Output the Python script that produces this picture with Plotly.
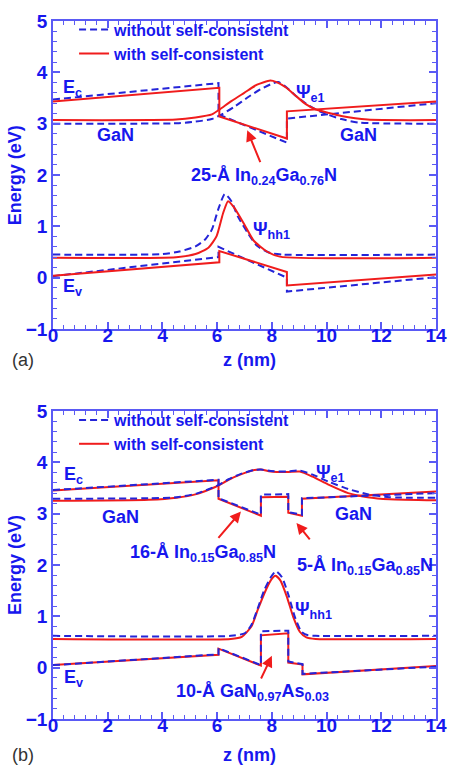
import plotly.graph_objects as go

# ---------------- data: panel (a) ----------------
a_ec_x_wo = [0, 6.05, 6.05, 8.55, 8.55, 14]
a_ec_y_wo = [3.47, 3.79, 3.18, 2.63, 3.10, 3.40]
a_ec_x_w = [0, 6.08, 6.08, 8.55, 8.55, 14]
a_ec_y_w = [3.43, 3.70, 3.14, 2.71, 3.24, 3.43]

a_ev_x_wo = [0, 6.05, 6.05, 8.55, 8.55, 14]
a_ev_y_wo = [0.03, 0.40, 0.60, 0.00, -0.27, 0.01]
a_ev_x_w = [0, 6.08, 6.08, 8.55, 8.55, 14]
a_ev_y_w = [0.04, 0.30, 0.52, 0.11, -0.15, 0.06]

a_pe_x_wo = [0, 4.6, 5.2, 5.8, 6.17, 6.63, 7.11, 7.58, 8.06, 8.23, 8.53, 8.88, 9.36, 9.83, 10.54, 11.2, 14]
a_pe_y_wo = [3.00, 3.01, 3.04, 3.09, 3.18, 3.33, 3.51, 3.67, 3.79, 3.81, 3.71, 3.54, 3.35, 3.22, 3.09, 3.02, 3.00]
a_pe_x_w = [0, 4.5, 5.21, 5.81, 6.10, 6.52, 6.99, 7.46, 7.94, 8.17, 8.53, 8.88, 9.24, 9.59, 10.07, 10.54, 11.5, 14]
a_pe_y_w = [3.07, 3.08, 3.12, 3.18, 3.28, 3.44, 3.60, 3.76, 3.84, 3.81, 3.70, 3.54, 3.38, 3.28, 3.21, 3.15, 3.08, 3.07]

a_ph_x_wo = [0, 4.0, 4.62, 5.21, 5.57, 5.81, 6.04, 6.28, 6.52, 6.75, 7.11, 7.46, 7.94, 8.4, 14]
a_ph_y_wo = [0.45, 0.46, 0.51, 0.61, 0.75, 0.94, 1.33, 1.63, 1.49, 1.20, 0.88, 0.62, 0.48, 0.45, 0.45]
a_ph_x_w = [0, 4.5, 5.21, 5.69, 5.98, 6.22, 6.40, 6.63, 6.99, 7.34, 7.82, 8.29, 14]
a_ph_y_w = [0.39, 0.40, 0.46, 0.59, 0.81, 1.26, 1.49, 1.36, 1.04, 0.72, 0.51, 0.41, 0.39]

# ---------------- data: panel (b) ----------------
b_ec_x = [0, 6.05, 6.05, 7.6, 7.6, 8.6, 8.6, 9.1, 9.1, 14]
b_ec_y_wo = [3.46, 3.66, 3.30, 2.98, 3.37, 3.38, 3.03, 2.98, 3.30, 3.40]
b_ec_y_w = [3.45, 3.65, 3.29, 2.96, 3.32, 3.33, 3.02, 2.96, 3.29, 3.43]

b_ev_x = [0, 6.05, 6.05, 7.6, 7.6, 8.6, 8.6, 9.12, 9.12, 14]
b_ev_y_wo = [0.05, 0.26, 0.38, 0.05, 0.71, 0.72, 0.12, 0.07, -0.12, 0.02]
b_ev_y_w = [0.05, 0.25, 0.37, 0.04, 0.63, 0.67, 0.10, 0.06, -0.13, 0.03]

b_pe_x = [0, 3.5, 4.52, 5.24, 5.71, 6.06, 6.42, 6.89, 7.36, 7.60, 7.96, 8.55, 9.02, 9.49, 10.09, 10.79, 11.5, 12.3, 14]
b_pe_y_wo = [3.29, 3.30, 3.32, 3.39, 3.48, 3.56, 3.67, 3.78, 3.85, 3.86, 3.83, 3.82, 3.84, 3.76, 3.62, 3.48, 3.38, 3.32, 3.31]
b_pe_y_w = [3.25, 3.27, 3.31, 3.38, 3.47, 3.55, 3.66, 3.77, 3.85, 3.86, 3.82, 3.81, 3.82, 3.72, 3.56, 3.40, 3.32, 3.28, 3.26]

b_ph_x_wo = [0, 6.5, 7.01, 7.25, 7.48, 7.72, 7.96, 8.15, 8.37, 8.61, 8.84, 9.08, 9.32, 9.6, 14]
b_ph_y_wo = [0.62, 0.62, 0.67, 0.83, 1.15, 1.51, 1.76, 1.88, 1.76, 1.41, 0.99, 0.70, 0.63, 0.62, 0.62]
b_ph_x_w = [0, 6.5, 6.9, 7.25, 7.48, 7.72, 7.96, 8.13, 8.31, 8.55, 8.78, 9.02, 9.26, 9.6, 14]
b_ph_y_w = [0.56, 0.56, 0.60, 0.80, 1.12, 1.44, 1.70, 1.79, 1.70, 1.38, 0.99, 0.70, 0.59, 0.56, 0.56]

series_names = ["without self-consistent", "with self-consistent"]

# ---------------- style ----------------
FONT = "Liberation Sans"
RED = "#f01c1c"
BLUE = "#2424d8"
TXT = "#1717ee"
AX = "#5a5af5"


def join(*pairs):
    xs, ys = [], []
    for x, y in pairs:
        if xs:
            xs.append(None)
            ys.append(None)
        xs += list(x)
        ys += list(y)
    return xs, ys


fig = go.Figure()


def add_series(xa, ya, band_pairs, psi_pairs, wo, legend, show):
    color = BLUE if wo else RED
    dash = "7px,4px" if wo else "solid"
    name = series_names[0] if wo else series_names[1]
    bx, by = join(*band_pairs)
    px, py = join(*psi_pairs)
    fig.add_trace(go.Scatter(x=bx, y=by, mode="lines", name=name, legend=legend,
                             xaxis=xa, yaxis=ya, showlegend=show, connectgaps=False,
                             line=dict(color=color, width=2, dash=dash)))
    fig.add_trace(go.Scatter(x=px, y=py, mode="lines", name=name, legend=legend,
                             xaxis=xa, yaxis=ya, showlegend=False, connectgaps=False,
                             line=dict(color=color, width=2, dash=dash, shape="spline", smoothing=0.6)))


# panel (a)
add_series("x", "y", [(a_ec_x_wo, a_ec_y_wo), (a_ev_x_wo, a_ev_y_wo)],
           [(a_pe_x_wo, a_pe_y_wo), (a_ph_x_wo, a_ph_y_wo)], True, "legend", True)
add_series("x", "y", [(a_ec_x_w, a_ec_y_w), (a_ev_x_w, a_ev_y_w)],
           [(a_pe_x_w, a_pe_y_w), (a_ph_x_w, a_ph_y_w)], False, "legend", True)
# panel (b)
add_series("x2", "y2", [(b_ec_x, b_ec_y_w), (b_ev_x, b_ev_y_w)],
           [(b_pe_x, b_pe_y_w), (b_ph_x_w, b_ph_y_w)], False, "legend2", False)
add_series("x2", "y2", [(b_ec_x, b_ec_y_wo), (b_ev_x, b_ev_y_wo)],
           [(b_pe_x, b_pe_y_wo), (b_ph_x_wo, b_ph_y_wo)], True, "legend2", True)
fig.add_trace(go.Scatter(x=[None], y=[None], mode="lines", name=series_names[1], legend="legend2",
                         xaxis="x2", yaxis="y2", showlegend=True,
                         line=dict(color=RED, width=2)))

tickfont = dict(family=FONT, size=19, color=TXT, weight="bold")


def xaxis(anchor):
    return dict(range=[0, 14], tick0=0, dtick=2, ticks="inside", ticklen=7, tickwidth=1.5,
                tickcolor=AX, showline=True, linecolor=AX, linewidth=1.5, mirror="allticks",
                showgrid=False, zeroline=False, tickfont=tickfont, anchor=anchor,
                ticklabelstandoff=-12,
                minor=dict(dtick=0.4, tick0=0, ticks="inside", ticklen=4, tickwidth=1, tickcolor=AX, showgrid=False))


def yaxis(anchor, domain):
    return dict(range=[-1, 5], tick0=0, dtick=1, ticks="inside", ticklen=7, tickwidth=1.5,
                tickcolor=AX, showline=True, linecolor=AX, linewidth=1.5, mirror="allticks",
                showgrid=False, zeroline=False, tickfont=tickfont, anchor=anchor, domain=domain,
                minor=dict(dtick=0.2, tick0=0, ticks="inside", ticklen=4, tickwidth=1, tickcolor=AX, showgrid=False))


legfont = dict(family=FONT, size=16, color=TXT, weight="bold")

fig.update_layout(
    width=458, height=770,
    margin=dict(l=53, r=11, t=12, b=51),
    paper_bgcolor="white", plot_bgcolor="white",
    xaxis=xaxis("y"), yaxis=yaxis("x", [0.5587, 1.0]),
    xaxis2=xaxis("y2"), yaxis2=yaxis("x2", [0.0, 0.4413]),
    legend=dict(x=0.055, y=1.0119, xanchor="left", yanchor="top", font=legfont,
                bgcolor="rgba(0,0,0,0)", tracegroupgap=0),
    legend2=dict(x=0.055, y=0.4526, xanchor="left", yanchor="top", font=legfont,
                 bgcolor="rgba(0,0,0,0)", tracegroupgap=0),
    showlegend=True,
)

ann = []
LF = dict(family=FONT, size=18, color=TXT, weight="bold")


def label(text, x, y, xref, yref, xanchor="left", yanchor="middle", size=18):
    f = dict(LF)
    f["size"] = size
    ann.append(dict(text=text, x=x, y=y, xref=xref, yref=yref, xanchor=xanchor, yanchor=yanchor,
                    showarrow=False, font=f))


def arrow(x, y, ax, ay, xref, yref):
    ann.append(dict(text="", x=x, y=y, ax=ax, ay=ay, xref=xref, yref=yref, axref=xref, ayref=yref,
                    showarrow=True, arrowhead=2, arrowsize=1.1, arrowwidth=2, arrowcolor=RED))


# panel (a) labels
label("E<sub>c</sub>", 0.3, 3.68, "x", "y")
label("Ψ<sub>e1</sub>", 8.8, 3.58, "x", "y")
label("GaN", 2.27, 2.77, "x", "y", xanchor="center")
label("GaN", 11.18, 2.77, "x", "y", xanchor="center")
label("25-Å In<sub>0.24</sub>Ga<sub>0.76</sub>N", 7.72, 1.97, "x", "y", xanchor="center")
label("Ψ<sub>hh1</sub>", 7.25, 0.92, "x", "y")
label("E<sub>v</sub>", 0.3, -0.2, "x", "y")
arrow(7.10, 2.87, 7.60, 2.22, "x", "y")

# panel (b) labels
label("E<sub>c</sub>", 0.33, 3.75, "x2", "y2")
label("Ψ<sub>e1</sub>", 9.55, 3.79, "x2", "y2")
label("GaN", 2.45, 2.94, "x2", "y2", xanchor="center")
label("GaN", 10.97, 3.0, "x2", "y2", xanchor="center")
label("16-Å In<sub>0.15</sub>Ga<sub>0.85</sub>N", 5.47, 2.23, "x2", "y2", xanchor="center")
label("5-Å In<sub>0.15</sub>Ga<sub>0.85</sub>N", 11.4, 1.98, "x2", "y2", xanchor="center")
label("Ψ<sub>hh1</sub>", 8.76, 1.12, "x2", "y2")
label("E<sub>v</sub>", 0.33, -0.21, "x2", "y2")
label("10-Å GaN<sub>0.97</sub>As<sub>0.03</sub>", 7.29, -0.49, "x2", "y2", xanchor="center")
arrow(6.87, 3.04, 6.0, 2.50, "x2", "y2")
arrow(8.90, 2.82, 9.43, 2.47, "x2", "y2")
arrow(8.0, 0.23, 7.58, -0.24, "x2", "y2")

# axis titles and panel letters (paper coords)
for yc, ylab in [(0.779, 0.514), (0.2207, -0.052)]:
    ann.append(dict(text="Energy (eV)", x=-0.099, y=yc, xref="paper", yref="paper", textangle=-90,
                    xanchor="center", yanchor="middle", showarrow=False, font=LF))
    ann.append(dict(text="z (nm)", x=0.513, y=ylab, xref="paper", yref="paper",
                    xanchor="center", yanchor="middle", showarrow=False, font=LF))
for t, yv in [("(a)", 0.514), ("(b)", -0.052)]:
    ann.append(dict(text=t, x=-0.079, y=yv, xref="paper", yref="paper", xanchor="center",
                    yanchor="middle", showarrow=False, font=dict(family=FONT, size=18, color="#333333")))

fig.update_layout(annotations=ann)
fig.write_html("out.html")
